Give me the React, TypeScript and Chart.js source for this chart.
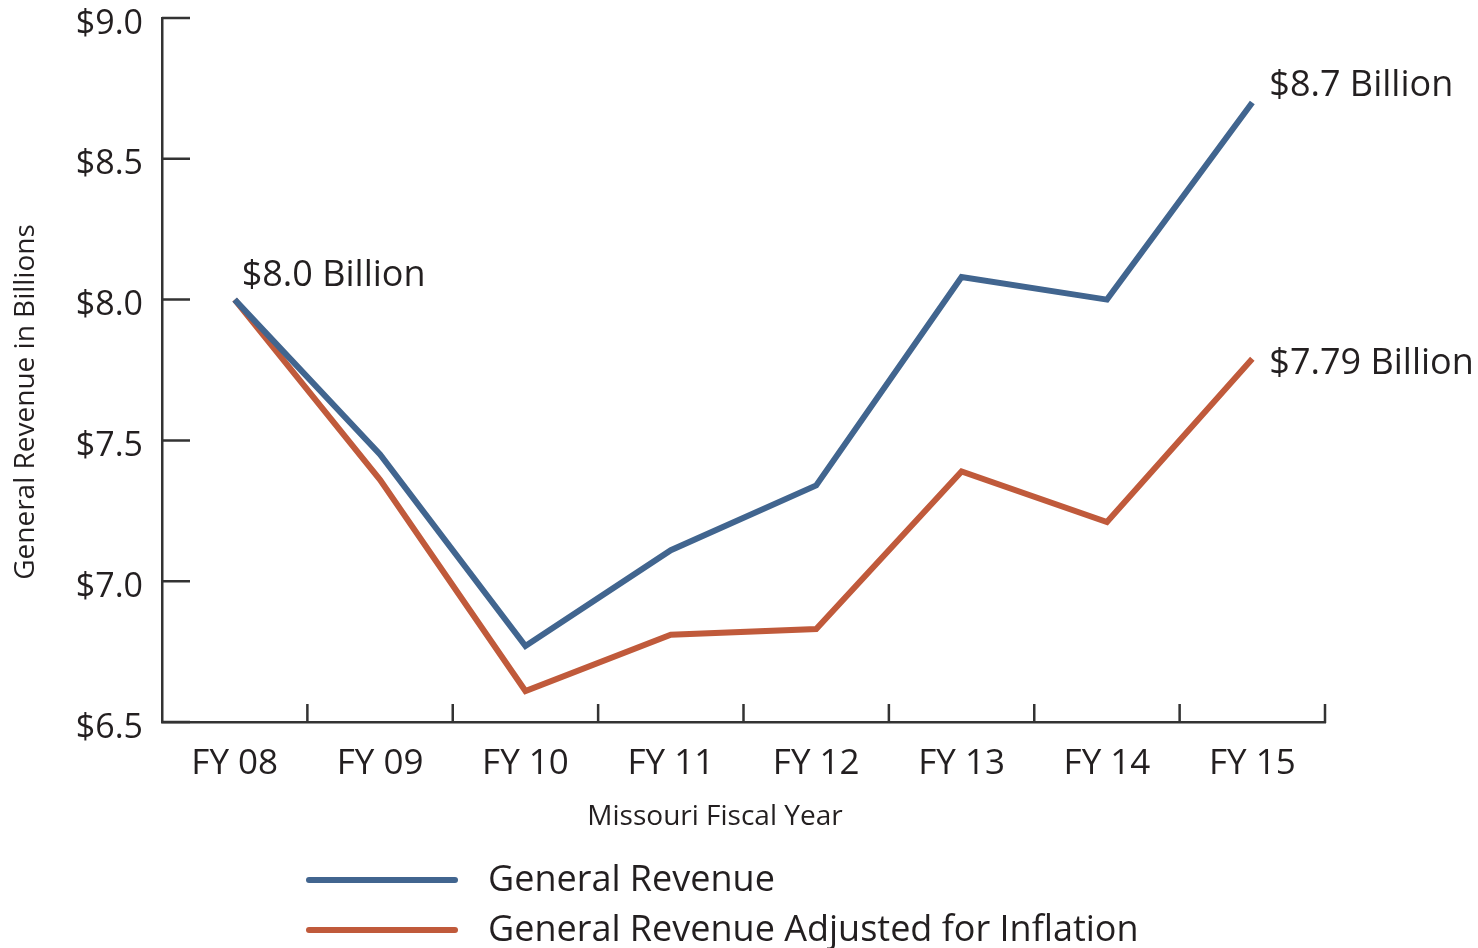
import React, { useEffect, useRef } from "react";
import { Chart, registerables } from "chart.js";

Chart.register(...registerables);

const categories = ["FY 08", "FY 09", "FY 10", "FY 11", "FY 12", "FY 13", "FY 14", "FY 15"];
const generalRevenue = [8.0, 7.45, 6.77, 7.11, 7.34, 8.08, 8.0, 8.7];
const adjustedRevenue = [8.0, 7.36, 6.61, 6.81, 6.83, 7.39, 7.21, 7.79];
const yTickValues = [6.5, 7.0, 7.5, 8.0, 8.5, 9.0];
const seriesNames = ["General Revenue", "General Revenue Adjusted for Inflation"];
const yTitle = "General Revenue in Billions";
const xTitle = "Missouri Fiscal Year";
const callouts = [
  { dataset: 0, index: 0, text: "$8.0 Billion" },
  { dataset: 0, index: 7, text: "$8.7 Billion" },
  { dataset: 1, index: 7, text: "$7.79 Billion" },
];

const BLUE = "#41658f";
const ORANGE = "#c05a3b";
const AXIS = "#333333";
const TEXT = "#231f20";
const FONT = "'Open Sans', 'Noto Sans', sans-serif";

const calloutOffsets = [
  { dx: 7, dy: -14 },
  { dx: 17, dy: -6 },
  { dx: 17, dy: 15 },
];

const decorPlugin = {
  id: "decor",
  afterDraw(chart: any) {
    const ctx = chart.ctx;
    const { left, bottom } = chart.chartArea;
    const xs = chart.scales.x;
    const ys = chart.scales.y;
    ctx.save();
    // inward ticks
    ctx.strokeStyle = AXIS;
    ctx.lineWidth = 2.5;
    ctx.beginPath();
    yTickValues.forEach((v) => {
      const y = ys.getPixelForValue(v);
      ctx.moveTo(left, y);
      ctx.lineTo(left + 28, y);
    });
    for (let i = 0; i < categories.length; i++) {
      const x = xs.getPixelForValue(i + 0.5);
      ctx.moveTo(x, bottom + 1);
      ctx.lineTo(x, bottom - 18);
    }
    ctx.stroke();

    // axis titles
    ctx.fillStyle = TEXT;
    ctx.font = `28px ${FONT}`;
    ctx.textAlign = "center";
    ctx.textBaseline = "middle";
    ctx.fillText(xTitle, 715, 817);
    ctx.save();
    ctx.translate(26, 402);
    ctx.rotate(-Math.PI / 2);
    ctx.fillText(yTitle, 0, 0);
    ctx.restore();

    // callouts
    ctx.font = `36px ${FONT}`;
    ctx.textAlign = "left";
    ctx.textBaseline = "alphabetic";
    callouts.forEach((c, k) => {
      const meta = chart.getDatasetMeta(c.dataset);
      const pt = meta.data[c.index];
      ctx.fillText(c.text, pt.x + calloutOffsets[k].dx, pt.y + calloutOffsets[k].dy);
    });

    // legend
    const legendColors = [BLUE, ORANGE];
    const legendY = [880, 930];
    ctx.font = `36px ${FONT}`;
    ctx.textBaseline = "middle";
    seriesNames.forEach((name, i) => {
      ctx.strokeStyle = legendColors[i];
      ctx.lineWidth = 6;
      ctx.lineCap = "round";
      ctx.beginPath();
      ctx.moveTo(309, legendY[i]);
      ctx.lineTo(455, legendY[i]);
      ctx.stroke();
      ctx.fillStyle = TEXT;
      ctx.fillText(name, 488, legendY[i] + 1);
    });
    ctx.restore();
  },
};

export default function App() {
  const ref = useRef<HTMLCanvasElement | null>(null);
  useEffect(() => {
    if (!ref.current) return;
    const chart = new Chart(ref.current, {
      type: "line",
      data: {
        labels: categories,
        datasets: [
          {
            label: seriesNames[0],
            data: generalRevenue,
            borderColor: BLUE,
            backgroundColor: BLUE,
            borderWidth: 6,
            pointRadius: 0,
            tension: 0,
            order: 0,
          },
          {
            label: seriesNames[1],
            data: adjustedRevenue,
            borderColor: ORANGE,
            backgroundColor: ORANGE,
            borderWidth: 6,
            pointRadius: 0,
            tension: 0,
            order: 1,
          },
        ],
      },
      options: {
        animation: false,
        responsive: false,
        events: [],
        layout: { padding: { left: 8, top: 18, right: 153, bottom: 0 } },
        plugins: { legend: { display: false }, tooltip: { enabled: false }, title: { display: false } },
        scales: {
          x: {
            type: "category",
            offset: true,
            grid: { display: false, drawTicks: false },
            border: { display: true, color: AXIS, width: 2.5 },
            ticks: { color: TEXT, font: { family: FONT, size: 35 }, padding: 21, maxRotation: 0 },
            afterFit: (s: any) => {
              s.height = 226;
              s.paddingLeft = 0;
              s.paddingRight = 0;
            },
          },
          y: {
            type: "linear",
            min: 6.5,
            max: 9.0,
            grid: { display: false, drawTicks: false },
            border: { display: true, color: AXIS, width: 2.5 },
            afterBuildTicks: (s: any) => {
              s.ticks = yTickValues.map((v) => ({ value: v }));
            },
            ticks: {
              color: TEXT,
              font: { family: FONT, size: 34 },
              padding: 19,
              labelOffset: 6,
              callback: (v: any) => "$" + Number(v).toFixed(1),
            },
            afterFit: (s: any) => {
              s.width = 154;
              s.paddingTop = 0;
              s.paddingBottom = 0;
            },
          },
        },
      },
      plugins: [decorPlugin],
    });
    return () => chart.destroy();
  }, []);
  return (
    <div style={{ position: "absolute", left: 0, top: 0, width: 1478, height: 948, background: "#fff" }}>
      <canvas ref={ref} width={1478} height={948} style={{ width: 1478, height: 948, display: "block" }} />
    </div>
  );
}
